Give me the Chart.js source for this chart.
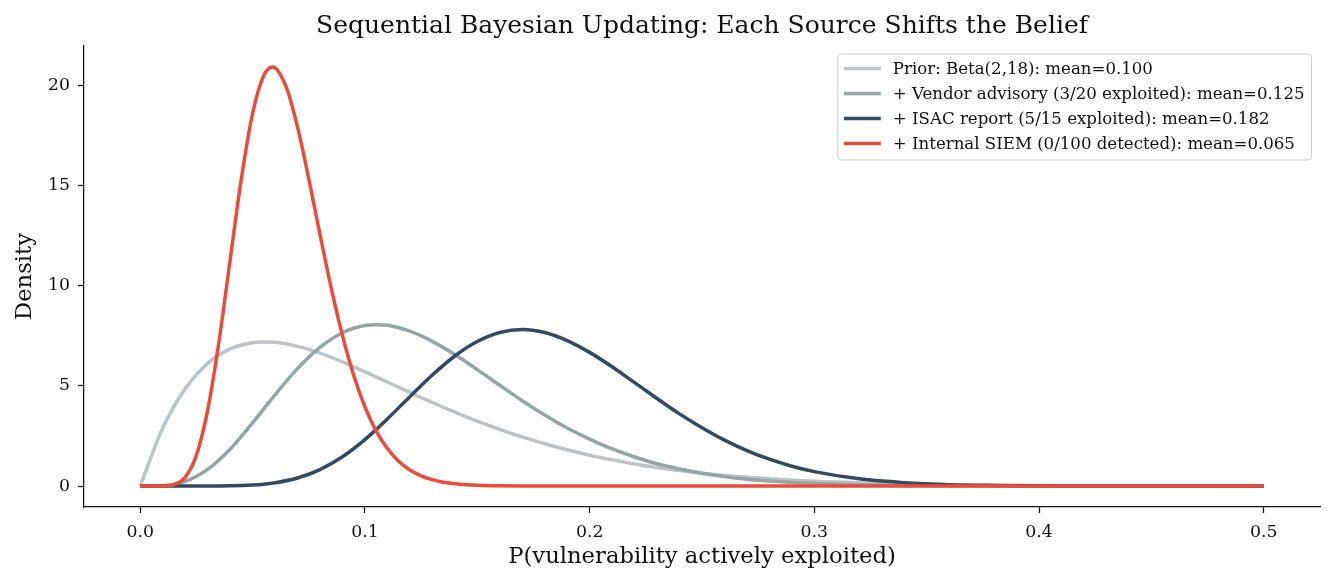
<!DOCTYPE html>
<html>
<head>
<meta charset="utf-8">
<script src="https://cdn.jsdelivr.net/npm/chart.js@4.4.1/dist/chart.umd.min.js"></script>
<style>
  body { margin: 0; background: #fff; }
  #wrap { width: 1335px; height: 585px; }
</style>
</head>
<body>
<div id="wrap"><canvas id="beta-chart"></canvas></div>
<script>
// values
const xGrid = [0, 0.01, 0.02, 0.03, 0.04, 0.05, 0.055, 0.06, 0.07, 0.08, 0.09, 0.10, 0.105, 0.11, 0.12, 0.13, 0.14, 0.15,
  0.16, 0.17, 0.18, 0.19, 0.20, 0.21, 0.22, 0.23, 0.24, 0.25, 0.26, 0.27, 0.28, 0.29, 0.30,
  0.32, 0.34, 0.36, 0.38, 0.40, 0.45, 0.50];
const priorY = [0, 2.88, 4.85, 6.11, 6.84, 7.15, 7.19, 7.17, 6.97, 6.63, 6.19, 5.70, 5.45, 5.19, 4.67, 4.17, 3.69, 3.24,
  2.83, 2.45, 2.11, 1.81, 1.54, 1.31, 1.10, 0.93, 0.77, 0.64, 0.53, 0.44, 0.36, 0.29, 0.24,
  0.16, 0.10, 0.06, 0.04, 0.02, 0.01, 0.00];
const vendorY = [0, 0.02, 0.23, 0.83, 1.84, 3.15, 3.85, 4.55, 5.86, 6.92, 7.65, 8.01, 8.05, 8.02, 7.73, 7.22, 6.56, 5.81,
  5.03, 4.26, 3.55, 2.90, 2.34, 1.85, 1.45, 1.11, 0.85, 0.64, 0.47, 0.34, 0.25, 0.18, 0.13,
  0.06, 0.03, 0.01, 0.01, 0.00, 0.00, 0.00];
const isacY = [0, 0, 0, 0, 0.01, 0.05, 0.09, 0.16, 0.40, 0.82, 1.46, 2.32, 2.82, 3.35, 4.46, 5.54, 6.49, 7.21,
  7.66, 7.81, 7.66, 7.26, 6.67, 5.95, 5.16, 4.37, 3.60, 2.91, 2.29, 1.77, 1.34, 0.99, 0.72,
  0.36, 0.17, 0.07, 0.03, 0.01, 0.00, 0.00];

// the SIEM curve is narrow, so it is read at a finer step
const xSiem = [0, 0.005, 0.01, 0.015, 0.02, 0.025, 0.03, 0.035, 0.04, 0.045, 0.05, 0.055, 0.059, 0.065,
  0.07, 0.075, 0.08, 0.085, 0.09, 0.095, 0.10, 0.105, 0.11, 0.115, 0.12, 0.125, 0.13, 0.135,
  0.14, 0.145, 0.15, 0.16, 0.17, 0.18, 0.20, 0.25, 0.30, 0.40, 0.50];
const siemY = [0, 0, 0.00, 0.07, 0.43, 1.53, 3.76, 7.15, 11.26, 15.32, 18.57, 20.48, 20.91, 19.90,
  17.92, 15.34, 12.56, 9.89, 7.52, 5.53, 3.95, 2.75, 1.87, 1.24, 0.80, 0.51, 0.32, 0.19,
  0.12, 0.07, 0.04, 0.01, 0.00, 0.00, 0, 0, 0, 0, 0];

const seriesLabels = [
  'Prior: Beta(2,18): mean=0.100',
  '+ Vendor advisory (3/20 exploited): mean=0.125',
  '+ ISAC report (5/15 exploited): mean=0.182',
  '+ Internal SIEM (0/100 detected): mean=0.065'
];
const seriesColors = ['#bdc3c7', '#95a5a6', '#34495e', '#e74c3c'];

const xTicks = [0, 0.1, 0.2, 0.3, 0.4, 0.5];
const yTicks = [0, 5, 10, 15, 20];

const chartTitle = 'Sequential Bayesian Updating: Each Source Shifts the Belief';
const xLabel = 'P(vulnerability actively exploited)';
const yLabel = 'Density';

const serif = "'DejaVu Serif', serif";
const ink = '#111111';

Chart.defaults.font.family = serif;
Chart.defaults.color = ink;

function toPoints(xs, ys) {
  return xs.map((x, i) => ({ x: x, y: ys[i] }));
}

const curves = [
  toPoints(xGrid, priorY),
  toPoints(xGrid, vendorY),
  toPoints(xGrid, isacY),
  toPoints(xSiem, siemY)
];

// title above the plot and the boxed legend in the top right corner
const decorations = {
  id: 'decorations',
  afterDraw(chart) {
    const ctx = chart.ctx;
    const area = chart.chartArea;
    ctx.save();
    ctx.fillStyle = ink;
    ctx.font = '25px ' + serif;
    ctx.textAlign = 'center';
    ctx.textBaseline = 'alphabetic';
    ctx.fillText(chartTitle, (area.left + area.right) / 2, 33);

    ctx.font = '16.6px ' + serif;
    const widest = Math.max(...seriesLabels.map(t => ctx.measureText(t).width));
    const sample = 37, gap = 12, pad = 6, rowH = 25;
    const boxW = pad + sample + gap + widest + pad + 1;
    const boxH = rowH * seriesLabels.length + 6;
    const right = area.right - 8.5;
    const left = right - boxW;
    const top = area.top + 8;

    ctx.beginPath();
    ctx.roundRect(left, top, boxW, boxH, 3);
    ctx.fillStyle = 'rgba(255,255,255,0.8)';
    ctx.fill();
    ctx.strokeStyle = '#cccccc';
    ctx.lineWidth = 1;
    ctx.stroke();

    ctx.textAlign = 'left';
    ctx.textBaseline = 'middle';
    seriesLabels.forEach((label, i) => {
      const y = top + 14.5 + i * rowH;
      ctx.beginPath();
      ctx.moveTo(left + pad, y);
      ctx.lineTo(left + pad + sample, y);
      ctx.strokeStyle = seriesColors[i];
      ctx.lineWidth = 3.5;
      ctx.stroke();
      ctx.fillStyle = ink;
      ctx.fillText(label, left + pad + sample + gap, y + 1);
    });
    ctx.restore();
  }
};

new Chart(document.querySelector('#beta-chart').getContext('2d'), {
  type: 'line',
  data: {
    datasets: curves.map((pts, i) => ({
      label: seriesLabels[i],
      data: pts,
      borderColor: seriesColors[i],
      backgroundColor: seriesColors[i],
      borderWidth: 3.5,
      pointRadius: 0,
      fill: false,
      cubicInterpolationMode: 'monotone',
      order: curves.length - 1 - i
    }))
  },
  options: {
    responsive: true,
    maintainAspectRatio: false,
    animation: false,
    layout: { padding: { top: 46, right: 15, left: 0, bottom: 0 } },
    plugins: {
      legend: { display: false },
      title: { display: false },
      tooltip: { enabled: false }
    },
    scales: {
      x: {
        type: 'linear',
        min: -0.025,
        max: 0.525,
        afterBuildTicks: scale => { scale.ticks = xTicks.map(v => ({ value: v })); },
        afterFit: scale => { scale.height = 78; },
        ticks: {
          font: { size: 17.3 },
          color: ink,
          padding: 9,
          maxRotation: 0,
          callback: v => v.toFixed(1)
        },
        grid: { drawOnChartArea: false, drawTicks: true, tickLength: 6, tickWidth: 1.25, tickColor: ink },
        border: { display: true, color: ink, width: 1.25 },
        title: { display: true, text: xLabel, font: { size: 22.7 }, color: ink, padding: { top: 0, bottom: 14.5 } }
      },
      y: {
        type: 'linear',
        min: -1.045,
        max: 21.955,
        afterBuildTicks: scale => { scale.ticks = yTicks.map(v => ({ value: v })); },
        afterFit: scale => { scale.width = 84; },
        ticks: {
          font: { size: 17.3 },
          color: ink,
          padding: 8,
          callback: v => String(v)
        },
        grid: { drawOnChartArea: false, drawTicks: true, tickLength: 6, tickWidth: 1.25, tickColor: ink },
        border: { display: true, color: ink, width: 1.25 },
        title: { display: true, text: yLabel, font: { size: 22.7 }, color: ink, padding: { top: 11.5, bottom: 0 } }
      }
    }
  },
  plugins: [decorations]
});
</script>
</body>
</html>
